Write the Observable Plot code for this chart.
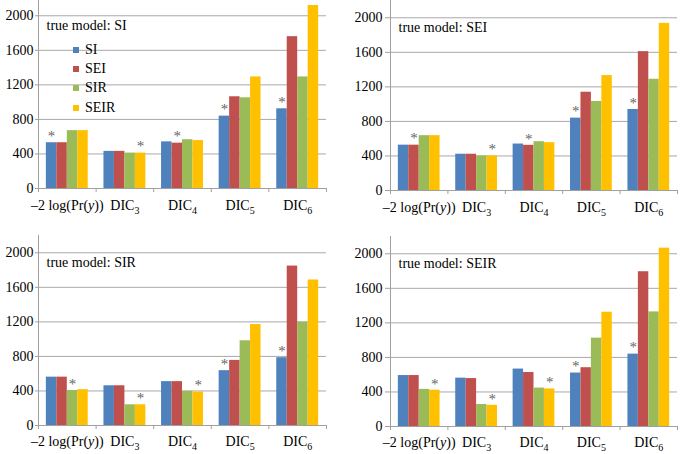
<!DOCTYPE html>
<html><head><meta charset="utf-8">
<script src="https://cdn.jsdelivr.net/npm/d3@7"></script>
<script src="https://cdn.jsdelivr.net/npm/@observablehq/plot@0.6"></script>
<style>
body{margin:0;background:#fff;}
#wrap{position:relative;width:680px;height:454px;overflow:hidden;background:#fff;}
.panel{position:absolute;}
.legend{position:absolute;font-family:"Liberation Serif",serif;font-size:14px;color:#000;}
.legend .row{height:19.3px;display:flex;align-items:center;}
.legend .sw{display:inline-block;width:6px;height:6px;margin-right:6px;}
</style></head><body><div id="wrap"></div>
<script>
// ---- data ----
const categories = ["–2 log(Pr(y))", "DIC3", "DIC4", "DIC5", "DIC6"];
const models = ["SI", "SEI", "SIR", "SEIR"];
const colors = ["#4F81BD", "#C0504D", "#9BBB59", "#FFC000"];
const yTicks = [0, 400, 800, 1200, 1600, 2000];

// values per category, in model order SI, SEI, SIR, SEIR
const trueSI   = [[530, 530, 670, 670], [430, 430, 410, 410], [540, 525, 565, 555], [838, 1062, 1050, 1292], [923, 1758, 1292, 2119]];
const trueSEI  = [[525, 525, 635, 635], [420, 420, 400, 400], [538, 523, 565, 554], [838, 1138, 1031, 1331], [938, 1608, 1288, 1935]];
const trueSIR  = [[560, 560, 405, 415], [460, 460, 240, 240], [508, 508, 396, 388], [635, 754, 981, 1169], [785, 1846, 1196, 1685]];
const trueSEIR = [[590, 590, 430, 420], [560, 555, 255, 245], [665, 625, 445, 435], [619, 681, 1023, 1323], [838, 1792, 1327, 2065]];

// model marked with an asterisk in each category
const starsSI   = ["SI", "SEIR", "SEI", "SI", "SI"];
const starsSEI  = ["SEI", "SEIR", "SEI", "SI", "SI"];
const starsSIR  = ["SIR", "SEIR", "SEIR", "SI", "SI"];
const starsSEIR = ["SEIR", "SEIR", "SEIR", "SI", "SI"];

const titles = ["true model: SI", "true model: SEI", "true model: SIR", "true model: SEIR"];

// ---- layout / style ----
const GRID = "#a9a9a9", AXIS = "#a0a0a0", STAR = "#666666";
const GAP = 1.5;                 // gap between groups, as a fraction of one bar width
const UNITS = models.length + GAP;

const panels = [
  {title: titles[0], values: trueSI,   stars: starsSI,   left: 0,   top: -12, ml: 38, mr: 14, ts: 3, tp: 2, lp: 12, legend: true},
  {title: titles[1], values: trueSEI,  stars: starsSEI,  left: 340, top: -10, ml: 50, mr: 3,  ts: 5, tp: 3, lp: 12},
  {title: titles[2], values: trueSIR,  stars: starsSIR,  left: 0,   top: 225, ml: 38, mr: 14, ts: 3, tp: 2, lp: 11},
  {title: titles[3], values: trueSEIR, stars: starsSEIR, left: 340, top: 226, ml: 50, mr: 3,  ts: 5, tp: 3, lp: 11}
];

const wrap = document.getElementById("wrap");

function barLeft(c, s) { return c + (GAP / 2 + s) / UNITS; }

panels.forEach(p => {
  const rows = [];
  p.values.forEach((vals, c) => vals.forEach((v, s) => rows.push({
    cat: categories[c], model: models[s], value: v,
    x1: barLeft(c, s), x2: barLeft(c, s + 1)
  })));
  const stars = p.stars.map((m, c) => {
    const s = models.indexOf(m);
    return {x: barLeft(c, s + 0.5), y: p.values[c][s]};
  });

  const chart = Plot.plot({
    width: 340, height: 240,
    marginTop: 10, marginBottom: 40, marginLeft: p.ml, marginRight: p.mr,
    x: {domain: [0, categories.length], label: null},
    y: {domain: [0, 2200], label: null},
    color: {domain: models, range: colors},
    style: {fontFamily: "Liberation Serif, serif", fontSize: "14px", color: "#000", background: "transparent", overflow: "visible"},
    marks: [
      Plot.gridY(yTicks.slice(1), {stroke: GRID, strokeOpacity: 1}),
      Plot.rectY(rows, {x1: "x1", x2: "x2", y1: 0, y2: "value", fill: "model"}),
      Plot.ruleY([0], {stroke: AXIS}),
      Plot.ruleX([0], {stroke: AXIS}),
      Plot.axisY(yTicks, {tickSize: p.ts, tickPadding: p.tp, stroke: AXIS, tickFormat: d => String(d), label: null}),
      Plot.axisX(d3.range(categories.length + 1), {tickSize: 4, stroke: AXIS, tickFormat: () => "", label: null}),
      Plot.axisX(d3.range(categories.length).map(i => i + 0.5), {tickSize: 0, tickPadding: p.lp, tickFormat: v => categories[Math.floor(v)], label: null}),
      Plot.text(stars, {x: "x", y: "y", text: () => "*", dy: -6.5, lineAnchor: "middle", fill: STAR, fontSize: 15}),
      Plot.text([p.title], {frameAnchor: "top-left", dx: 8, dy: 27, lineAnchor: "middle", textAnchor: "start"})
    ]
  });

  // subscripts / italics in category labels
  d3.select(chart).selectAll("text").each(function() {
    const t = this.textContent;
    const m = /^DIC(\d)$/.exec(t);
    const sel = d3.select(this);
    if (m) {
      this.textContent = "";
      sel.append("tspan").text("DIC");
      sel.append("tspan").attr("font-size", "10px").attr("dy", "4").text(m[1]);
    } else if (t === categories[0]) {
      this.textContent = "";
      sel.append("tspan").text("–2 log(Pr(");
      sel.append("tspan").attr("font-style", "italic").text("y");
      sel.append("tspan").text("))");
    }
  });

  const holder = document.createElement("div");
  holder.className = "panel";
  holder.style.left = p.left + "px";
  holder.style.top = p.top + "px";
  holder.appendChild(chart);
  wrap.appendChild(holder);

  if (p.legend) {
    const lg = document.createElement("div");
    lg.className = "legend";
    lg.style.left = (p.left + 73) + "px";
    lg.style.top = "40px";
    models.forEach((m, i) => {
      const r = document.createElement("div");
      r.className = "row";
      const sw = document.createElement("span");
      sw.className = "sw";
      sw.style.background = colors[i];
      r.appendChild(sw);
      r.appendChild(document.createTextNode(m));
      lg.appendChild(r);
    });
    wrap.appendChild(lg);
  }
});
</script></body></html>
